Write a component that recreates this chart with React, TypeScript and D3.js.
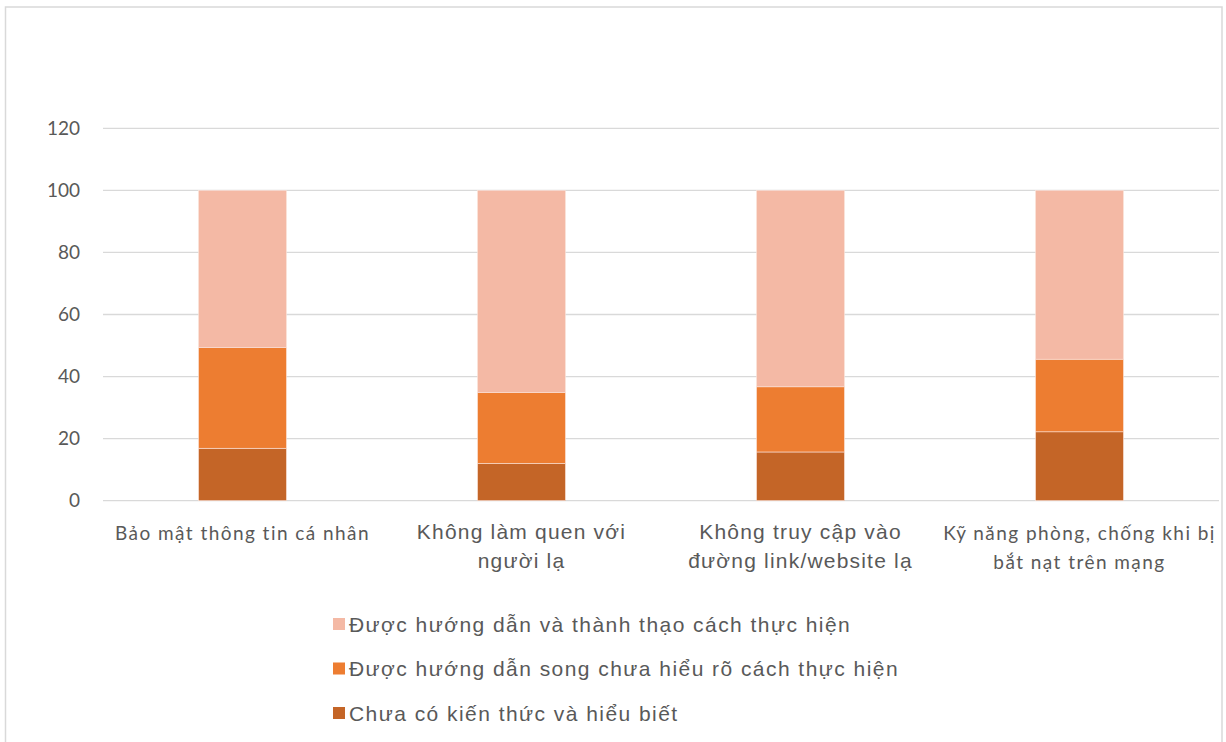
import React from "react";
import * as d3 from "d3";

const categories = [
  ["Bảo mật thông tin cá nhân"],
  ["Không làm quen với", "người lạ"],
  ["Không truy cập vào", "đường link/website lạ"],
  ["Kỹ năng phòng, chống khi bị", "bắt nạt trên mạng"],
];
const labelFonts = ["calibri", "arial", "arial", "calibri"];
const seriesNames = [
  "Chưa có kiến thức và hiểu biết",
  "Được hướng dẫn song chưa hiểu rõ cách thực hiện",
  "Được hướng dẫn và thành thạo cách thực hiện",
];
const chuaCo = [16.9, 12.0, 15.7, 22.2];
const chuaHieu = [32.4, 22.8, 21.0, 23.4];
const thanhThao = [50.7, 65.2, 63.3, 54.4];
const yTicks = [0, 20, 40, 60, 80, 100, 120];
const colors = ["#C46527", "#ED7D31", "#F4B9A5"];

export default function App() {
  const W = 1226, H = 742;
  const x = d3.scaleBand<number>().domain([0, 1, 2, 3]).range([103, 1219]).paddingInner(0.685).paddingOuter(0.3425);
  const y = d3.scaleLinear().domain([0, 120]).range([500.7, 128.3]);
  const rows = categories.map((_, i) => ({ i, a: chuaCo[i], b: chuaHieu[i], c: thanhThao[i] }));
  const stack = d3.stack<any>().keys(["a", "b", "c"])(rows);
  const legendOrder = [2, 1, 0];
  const grid = "#D9D9D9";
  const textCol = "#595959";
  return (
    <svg width={W} height={H} style={{ position: "absolute", left: 0, top: 0, background: "#fff" }}>
      <rect x={5.5} y={7} width={1216.5} height={760} fill="#fff" stroke="#D9D9D9" strokeWidth={1.5} />
      {yTicks.map((t) => (
        <g key={t}>
          <line x1={103} x2={1219} y1={y(t)} y2={y(t)} stroke={grid} strokeWidth={1.3} />
          <text x={80} y={y(t)} dy="0.35em" textAnchor="end" fontFamily="Lato, 'Open Sans', sans-serif" fontSize={19} fill={textCol}>{t}</text>
        </g>
      ))}
      {stack.map((s, si) => (
        <g key={si} fill={colors[si]}>
          {s.map((d, j) => (
            <rect key={j} x={x(j)} width={x.bandwidth()} y={y(d[1])} height={y(d[0]) - y(d[1])} stroke="#FBE3DA" strokeWidth={0.6} />
          ))}
        </g>
      ))}
      {categories.map((lines, i) => {
        const cal = labelFonts[i] === "calibri";
        return (
          <text key={i} textAnchor="middle" fontFamily={cal ? "Lato, 'Open Sans', sans-serif" : "'Liberation Sans', Arial, sans-serif"} fontSize={cal ? 19 : 21} fill={textCol} style={{ letterSpacing: cal ? "1.45px" : "1.2px" }}>
            {lines.map((l, k) => (
              <tspan key={k} x={(x(i) as number) + x.bandwidth() / 2} y={(cal ? 540 : 538.5) + k * 29}>{l}</tspan>
            ))}
          </text>
        );
      })}
      {legendOrder.map((si, k) => (
        <g key={si} transform={`translate(333, ${624 + k * 44.5})`}>
          <rect x={0} y={-6} width={12} height={12} fill={colors[si]} />
          <text x={16} y={0} dy="0.36em" fontFamily="'Liberation Sans', Arial, sans-serif" fontSize={21} fill={textCol} style={{ letterSpacing: "1.45px" }}>{seriesNames[si]}</text>
        </g>
      ))}
    </svg>
  );
}
